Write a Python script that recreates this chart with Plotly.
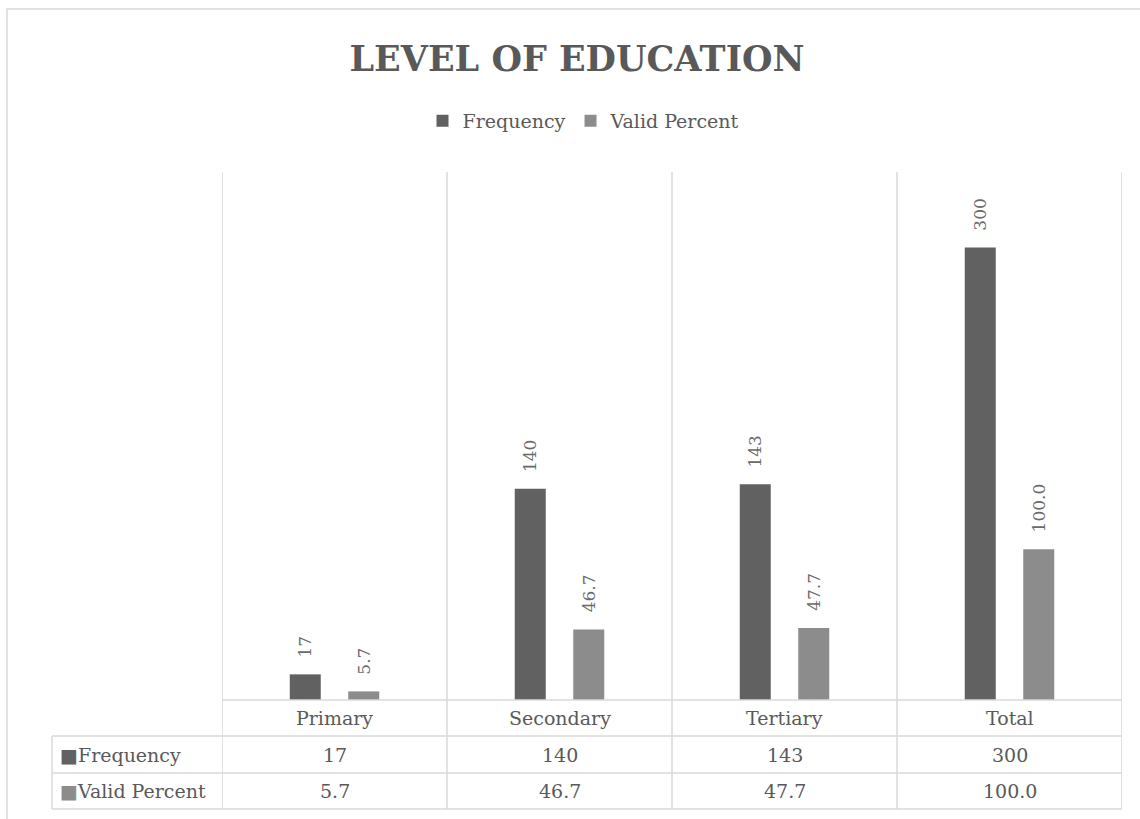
import plotly.graph_objects as go

categories = ["Primary", "Secondary", "Tertiary", "Total"]
frequency = [17, 140, 143, 300]
valid_percent = [5.7, 46.7, 47.7, 100.0]
freq_labels = ["17", "140", "143", "300"]
vp_labels = ["5.7", "46.7", "47.7", "100.0"]
series_names = ["Frequency", "Valid Percent"]

W, H = 1140, 819
L, R, T, B = 222, 1122, 172, 700
FONT = "DejaVu Serif"
TXT = "#595959"
GRID = "#d9d9d9"
C_FREQ = "#616161"
C_VP = "#8c8c8c"


def px(x):
    return (x - L) / (R - L)


def py(y):
    return (B - y) / (B - T)


fig = go.Figure()
fig.add_trace(go.Bar(x=categories, y=frequency, name=series_names[0],
                     marker=dict(color=C_FREQ, line=dict(width=0))))
fig.add_trace(go.Bar(x=categories, y=valid_percent, name=series_names[1],
                     marker=dict(color=C_VP, line=dict(width=0))))

annotations = []
slot = (R - L) / len(categories) * 0.52 / 2
for i, c in enumerate(categories):
    for vals, labs, sh in ((frequency, freq_labels, -slot / 2), (valid_percent, vp_labels, slot / 2)):
        annotations.append(dict(x=c, y=vals[i], xref="x", yref="y", text=labs[i],
                                textangle=-90, showarrow=False, xanchor="center",
                                yanchor="bottom", xshift=sh, yshift=15,
                                font=dict(family=FONT, size=17, color="#6a6a6a")))

# data table text
rows = [(series_names[0], freq_labels, C_FREQ, 755), (series_names[1], vp_labels, C_VP, 791)]
for i, c in enumerate(categories):
    annotations.append(dict(x=c, y=py(718), xref="x", yref="paper", text=c, showarrow=False,
                            xanchor="center", yanchor="middle",
                            font=dict(family=FONT, size=19, color=TXT)))
for name, labs, col, yy in rows:
    annotations.append(dict(x=px(58), y=py(yy), xref="paper", yref="paper",
                            text=f"<span style='color:{col}'>■</span>{name}", showarrow=False,
                            xanchor="left", yanchor="middle",
                            font=dict(family=FONT, size=19, color=TXT)))
    for i, c in enumerate(categories):
        annotations.append(dict(x=c, y=py(yy), xref="x", yref="paper", text=labs[i],
                                showarrow=False, xanchor="center", yanchor="middle",
                                font=dict(family=FONT, size=19, color=TXT)))

shapes = []
# vertical grid/table lines at category boundaries
for k in range(len(categories) + 1):
    shapes.append(dict(type="line", xref="x", yref="paper", x0=k - 0.5, x1=k - 0.5,
                       y0=py(809), y1=1, line=dict(color=GRID, width=1.5)))
# horizontal table lines
shapes.append(dict(type="line", xref="paper", yref="paper", x0=0, x1=1, y0=py(700), y1=py(700),
                   line=dict(color=GRID, width=1.5)))
for yy in (736, 773, 809):
    shapes.append(dict(type="line", xref="paper", yref="paper", x0=px(52), x1=1,
                       y0=py(yy), y1=py(yy), line=dict(color=GRID, width=1.5)))
shapes.append(dict(type="line", xref="paper", yref="paper", x0=px(52), x1=px(52),
                   y0=py(809), y1=py(736), line=dict(color=GRID, width=1.5)))
# outer chart border
shapes.append(dict(type="rect", xref="paper", yref="paper", x0=px(7), x1=px(1160),
                   y0=py(840), y1=py(9), line=dict(color=GRID, width=1.5)))

fig.update_layout(
    width=W, height=H,
    margin=dict(l=L, r=W - R, t=T, b=H - B),
    paper_bgcolor="white", plot_bgcolor="white",
    barmode="group", bargap=0.48, bargroupgap=0.47,
    title=dict(text="<b>LEVEL OF EDUCATION</b>", x=577 / W, xanchor="center",
               y=1 - 59 / H, yanchor="middle", xref="container", yref="container",
               font=dict(family=FONT, size=35, color=TXT)),
    legend=dict(orientation="h", x=px(584), xanchor="center", y=py(121), yanchor="middle",
                font=dict(family=FONT, size=19, color=TXT), itemclick=False,
                traceorder="normal", bgcolor="rgba(0,0,0,0)"),
    xaxis=dict(type="category", showticklabels=False, showgrid=False, zeroline=False,
               showline=False, ticks="", range=[-0.5, len(categories) - 0.5], fixedrange=True),
    yaxis=dict(range=[0, 350], visible=False, showgrid=False, zeroline=False, fixedrange=True),
    annotations=annotations, shapes=shapes, showlegend=True,
)

fig.write_html("out.html")
